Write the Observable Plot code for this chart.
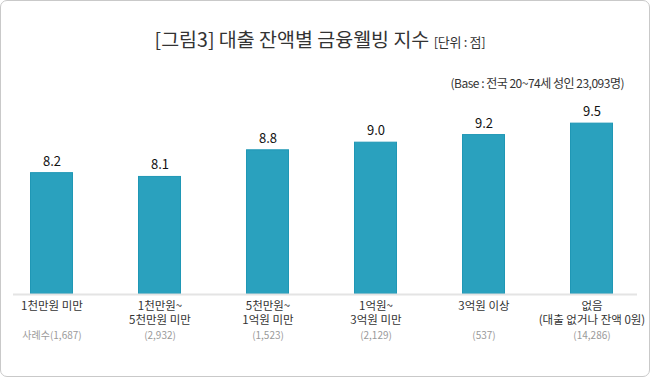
<!DOCTYPE html>
<html>
<head>
<meta charset="utf-8">
<script src="https://cdn.jsdelivr.net/npm/d3@7"></script>
<script src="https://cdn.jsdelivr.net/npm/@observablehq/plot@0.6"></script>
<style>
  html, body { margin: 0; padding: 0; background: #fff; }
  body { position: relative; width: 650px; height: 377px; overflow: hidden; font-family: "Noto Sans CJK KR", "Noto Sans", sans-serif; }
  #frame { position: absolute; left: 0; top: 0; width: 650px; height: 377px; box-sizing: border-box; border: 1px solid #c9c9c9; border-radius: 7px; }
  #title { position: absolute; left: 0; top: 26px; width: 640px; text-align: center; font-size: 19.5px; line-height: 26px; color: #333; letter-spacing: 0px; }
  #title .unit { font-size: 13px; letter-spacing: -0.3px; }
  #subtitle { position: absolute; right: 26px; top: 75px; font-size: 12px; line-height: 16px; color: #333; letter-spacing: -0.5px; }
  #chart { position: absolute; left: 0; top: 100px; }
</style>
</head>
<body>
<div id="frame"></div>
<div id="title">[그림3] 대출 잔액별 금융웰빙 지수 <span class="unit">[단위 : 점]</span></div>
<div id="subtitle">(Base : 전국 20~74세 성인 23,093명)</div>
<div id="chart"></div>
<script>
const categories = ["1천만원 미만", "1천만원~\n5천만원 미만", "5천만원~\n1억원 미만", "1억원~\n3억원 미만", "3억원 이상", "없음\n(대출 없거나 잔액 0원)"];
const values = [8.2, 8.1, 8.8, 9.0, 9.2, 9.5];
const counts = ["사례수(1,687)", "(2,932)", "(1,523)", "(2,129)", "(537)", "(14,286)"];

const data = categories.map((c, i) => ({category: c, value: values[i], count: counts[i]}));

const chart = Plot.plot({
  width: 650,
  height: 277,
  marginLeft: 13,
  marginRight: 13,
  marginTop: 0,
  marginBottom: 0,
  style: {fontFamily: "'Noto Sans CJK KR', 'Noto Sans', sans-serif", background: "transparent"},
  x: {domain: categories, range: [28, 614], padding: 0.604, paddingOuter: 0, axis: null},
  y: {domain: [5, 10], range: [194, 3.6], axis: null},
  marks: [
    Plot.barY(data, {x: "category", y1: 5, y2: "value", fill: "#2aa1be", stroke: "#1f97b5", strokeWidth: 1, inset: 0.5}),
    Plot.ruleY([5], {stroke: "#e4e4e4", strokeWidth: 2}),
    Plot.text(data, {x: "category", y: "value", text: d => d.value.toFixed(1), lineAnchor: "bottom", dy: -7, fontSize: 13, fontWeight: 400, fill: "#111"}),
    Plot.text(data, {x: "category", y: 5, text: "category", lineAnchor: "top", dy: 5, fontSize: 11.5, lineHeight: 1.25, fill: "#333", letterSpacing: "-0.6px"}),
    Plot.text(data, {x: "category", y: 5, text: "count", lineAnchor: "middle", dy: 41, fontSize: 10, fill: "#9a9a9a", letterSpacing: "-0.4px"})
  ]
});
document.getElementById("chart").appendChild(chart);
</script>
</body>
</html>
